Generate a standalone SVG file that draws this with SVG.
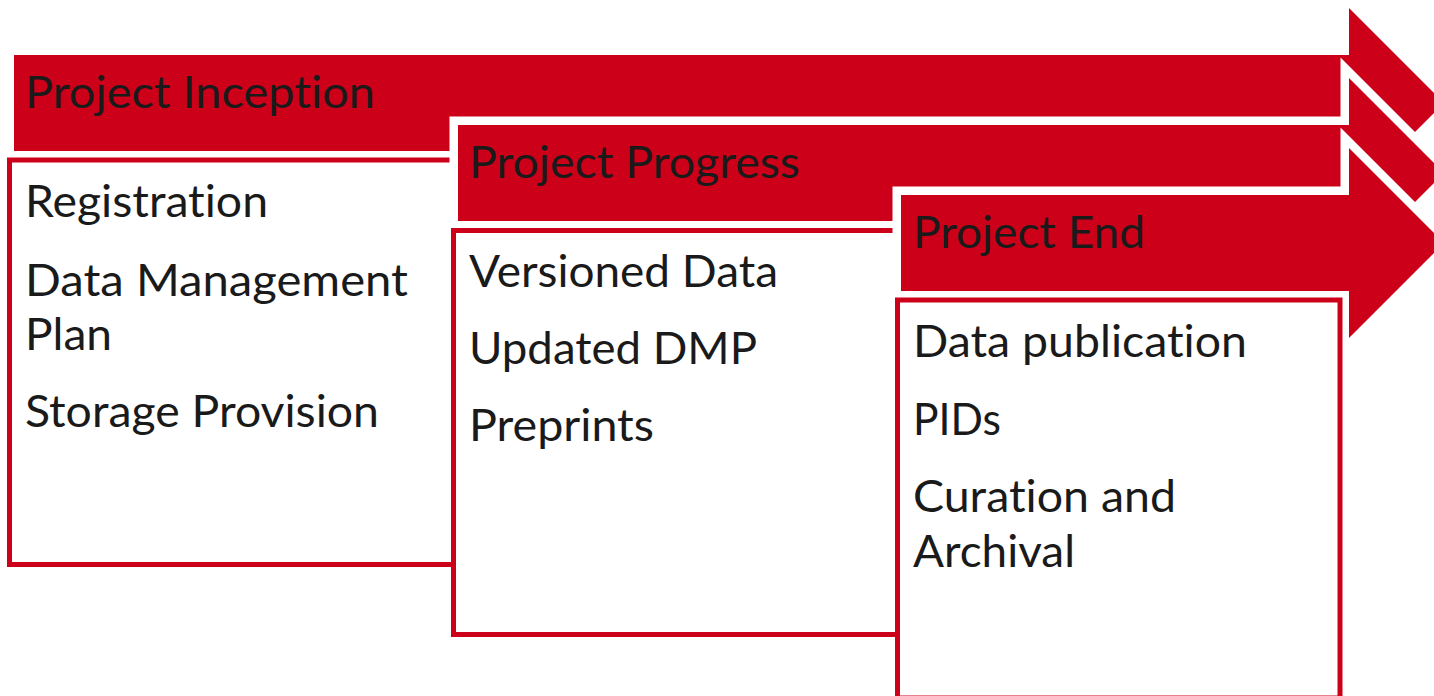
<svg xmlns="http://www.w3.org/2000/svg" width="1434" height="696" viewBox="0 0 1434 696">
<style>
.arrow{fill:#CC0018;stroke:#FFFFFF;stroke-width:17;paint-order:stroke;stroke-linejoin:miter}
.box{fill:#FFFFFF;stroke:#CC0018;stroke-width:5}
.t{font-family:Lato,"Open Sans","Liberation Sans",sans-serif;font-size:44px;fill:#1A1A1A;font-variant-ligatures:none;font-feature-settings:"liga" 0}
</style>
<rect x="0" y="0" width="1434" height="696" fill="#FFFFFF"/>
<g id="arrow-inception">
<polygon class="arrow" points="14,55 1349,55 1349,8 1444,103 1349,198 1349,151 14,151"/>
<text class="t" x="25" y="108" textLength="350" lengthAdjust="spacingAndGlyphs">Project Inception</text>
</g>
<g id="box-inception">
<rect class="box" x="9.5" y="160" width="444" height="404.5"/>
<text class="t" x="25" y="217" textLength="243" lengthAdjust="spacingAndGlyphs">Registration</text>
<text class="t" x="25" y="296" textLength="383" lengthAdjust="spacingAndGlyphs">Data Management</text>
<text class="t" x="25" y="350" textLength="87" lengthAdjust="spacingAndGlyphs">Plan</text>
<text class="t" x="25" y="427" textLength="354" lengthAdjust="spacingAndGlyphs">Storage Provision</text>
</g>
<g id="arrow-progress">
<polygon class="arrow" points="458,125 1349,125 1349,78 1444,173 1349,268 1349,221 458,221"/>
<text class="t" x="469" y="178" textLength="331" lengthAdjust="spacingAndGlyphs">Project Progress</text>
</g>
<g id="box-progress">
<rect class="box" x="453.5" y="230.5" width="444" height="404"/>
<text class="t" x="469" y="287" textLength="309" lengthAdjust="spacingAndGlyphs">Versioned Data</text>
<text class="t" x="469" y="364" textLength="288" lengthAdjust="spacingAndGlyphs">Updated DMP</text>
<text class="t" x="469" y="441" textLength="185" lengthAdjust="spacingAndGlyphs">Preprints</text>
</g>
<g id="arrow-end">
<polygon class="arrow" points="901,195 1349,195 1349,148 1444,243 1349,338 1349,291 901,291"/>
<text class="t" x="913" y="248" textLength="232" lengthAdjust="spacingAndGlyphs">Project End</text>
</g>
<g id="box-end">
<rect class="box" x="897.5" y="300" width="442.5" height="398"/>
<text class="t" x="913" y="357" textLength="334" lengthAdjust="spacingAndGlyphs">Data publication</text>
<text class="t" x="913" y="435" textLength="88" lengthAdjust="spacingAndGlyphs">PIDs</text>
<text class="t" x="913" y="512" textLength="263" lengthAdjust="spacingAndGlyphs">Curation and</text>
<text class="t" x="913" y="567" textLength="162" lengthAdjust="spacingAndGlyphs">Archival</text>
</g>
<g id="connectors"></g>
</svg>
